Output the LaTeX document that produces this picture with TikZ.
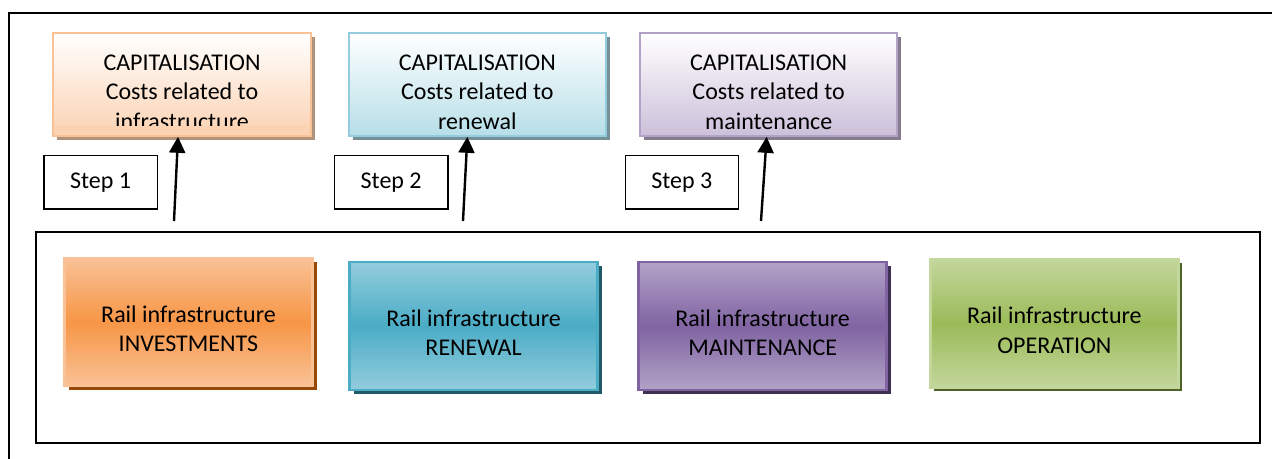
\documentclass[tikz,border=0pt]{standalone}
\usepackage{fontspec}
\setmainfont{Carlito}
\usetikzlibrary{positioning,shadows,arrows.meta}

\definecolor{orMid}{HTML}{F79646}
\definecolor{orLight}{HTML}{F9C196}
\definecolor{orShadow}{HTML}{984806}
\definecolor{blMid}{HTML}{4BACC6}
\definecolor{blLight}{HTML}{93CDDD}
\definecolor{blShadow}{HTML}{215968}
\definecolor{puMid}{HTML}{8064A2}
\definecolor{puLight}{HTML}{B2A2C7}
\definecolor{puShadow}{HTML}{3F3151}
\definecolor{grMid}{HTML}{9BBB59}
\definecolor{grLight}{HTML}{C3D69B}
\definecolor{grShadow}{HTML}{4F6228}
\definecolor{capOrBot}{HTML}{FBD2B2}
\definecolor{capBlBot}{HTML}{B7DEE8}
\definecolor{capPuBot}{HTML}{CCC0DA}

% extra room above the first line, as the text sits low in its box
\newcommand{\lowtext}{\rule{0pt}{23pt}}

\tikzset{
  railbox/.style={line width=1.8pt, minimum width=186pt, minimum height=96pt,
    align=center, inner sep=0pt, font=\fontsize{18}{22}\selectfont},
  invbox/.style={railbox, draw=orLight, top color=orLight, bottom color=orLight, middle color=orMid,
    general shadow={fill=orShadow, shadow xshift=3pt, shadow yshift=-3pt}},
  renbox/.style={railbox, draw=blMid, top color=blLight, bottom color=blLight, middle color=blMid,
    general shadow={fill=blShadow, shadow xshift=3pt, shadow yshift=-3pt}},
  mntbox/.style={railbox, draw=puMid, top color=puLight, bottom color=puLight, middle color=puMid,
    general shadow={fill=puShadow, shadow xshift=3pt, shadow yshift=-3pt}},
  opebox/.style={railbox, draw=grLight, top color=grLight, bottom color=grLight, middle color=grMid,
    general shadow={fill=grShadow, shadow xshift=3pt, shadow yshift=-3pt}},
  capbox/.style={line width=1.5pt, minimum width=193pt, minimum height=77pt,
    align=center, inner sep=0pt, font=\fontsize{18}{22}\selectfont},
  stepbox/.style={draw, line width=1pt, minimum width=85pt, minimum height=40pt,
    font=\fontsize{18}{22}\selectfont},
  frame/.style={draw, line width=1.5pt},
  uparrow/.style={line width=1.8pt, -{Triangle[width=12pt,length=12pt]}}
}

\begin{document}
\begin{tikzpicture}[x=0.75pt,y=-0.75pt]
  \path[use as bounding box, clip] (0,0) rectangle (1272,459);

  % frames
  \draw[frame] (9,13) rectangle (1290,480);
  \draw[frame] (36,232) rectangle (1260,443);

  % rail infrastructure activities
  \node[invbox] (inv) at (188.5,322) {\lowtext Rail infrastructure\\INVESTMENTS};
  \node[renbox] (ren) [right=26pt of inv, yshift=-3pt] {\lowtext Rail infrastructure\\RENEWAL};
  \node[mntbox] (mnt) [right=29pt of ren] {\lowtext Rail infrastructure\\MAINTENANCE};
  \node[opebox] (ope) [right=31pt of mnt, yshift=2pt] {\lowtext Rail infrastructure\\OPERATION};

  % capitalisation
  \node[capbox, draw=orLight, top color=white, bottom color=capOrBot,
        general shadow={fill=black!30!capOrBot, shadow xshift=3pt, shadow yshift=-3pt}]
        (cap1) at (182,84.5) {\lowtext CAPITALISATION\\Costs related to\\infrastructure};
  \fill[capOrBot] ([shift={(1.5pt,1.5pt)}]cap1.south west) rectangle ([shift={(-1.5pt,8pt)}]cap1.south east);
  \node[capbox, draw=blLight, top color=white, bottom color=capBlBot,
        general shadow={fill=black!35!capBlBot, shadow xshift=3pt, shadow yshift=-3pt}]
        (cap2) [right=27pt of cap1] {\lowtext CAPITALISATION\\Costs related to\\renewal};
  \node[capbox, draw=puLight, top color=white, bottom color=capPuBot,
        general shadow={fill=black!35!capPuBot, shadow xshift=3pt, shadow yshift=-3pt}]
        (cap3) [right=24pt of cap2] {\lowtext CAPITALISATION\\Costs related to\\maintenance};

  % steps
  \node[stepbox] (st1) at (100.5,182.5) {Step 1};
  \node[stepbox] (st2) [right=132pt of st1] {Step 2};
  \node[stepbox] (st3) [right=132pt of st2] {Step 3};

  \coordinate (a1) at (174,221);
  \coordinate (a2) at (463,221);
  \coordinate (a3) at (761,221);

  \draw[uparrow] (a1) -- ([xshift=-3pt]cap1.south);
  \draw[uparrow] (a2) -- ([xshift=-7.5pt]cap2.south);
  \draw[uparrow] (a3) -- ([xshift=-1.5pt]cap3.south);
\end{tikzpicture}
\end{document}
